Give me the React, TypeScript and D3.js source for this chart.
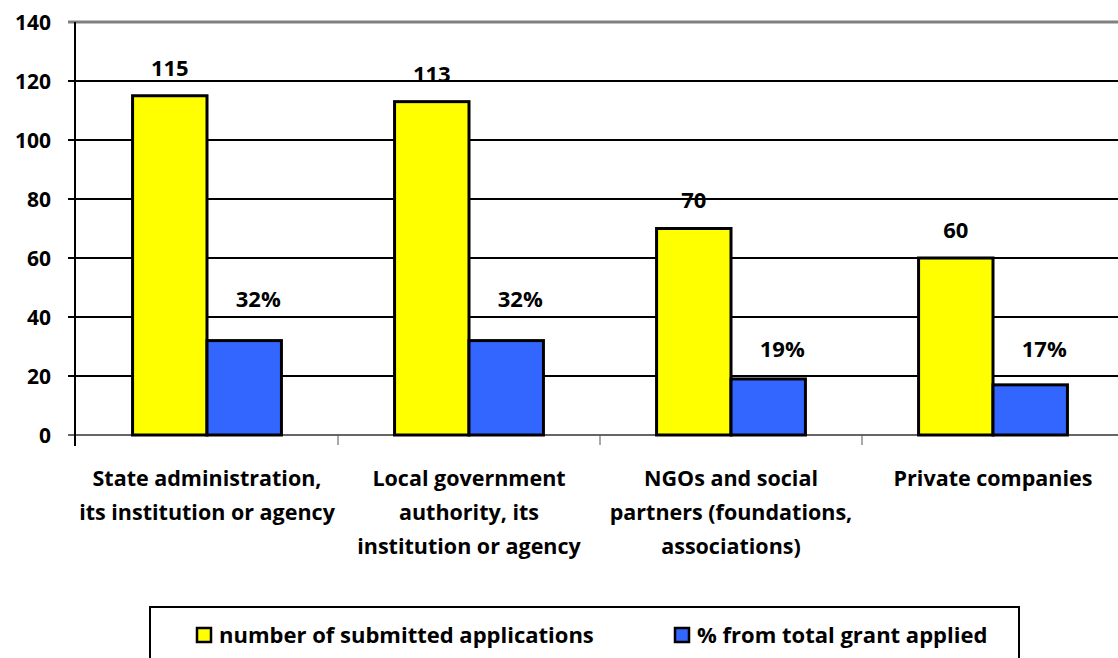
import React from "react";
import * as d3 from "d3";

const categories = [
  ["State administration,", "its institution or agency"],
  ["Local government", "authority, its", "institution or agency"],
  ["NGOs and social", "partners (foundations,", "associations)"],
  ["Private companies"],
];
const applications = [115, 113, 70, 60];
const percentShare = [32, 32, 19, 17];
const percentLabels = ["32%", "32%", "19%", "17%"];
const pctLabelAnchor = [46, 46, 29, 29];
const yTicks = [0, 20, 40, 60, 80, 100, 120, 140];
const seriesNames = ["number of submitted applications", "% from total grant applied"];
const colors = ["#FFFF00", "#3366FF"];

const W = 1118;
const H = 658;
const FONT = "'Open Sans', Lato, sans-serif";

export default function App() {
  const y = d3.scaleLinear().domain([0, 140]).range([435, 22]);
  const x0 = d3
    .scaleBand<number>()
    .domain(d3.range(categories.length))
    .range([76, 1124])
    .paddingInner(0)
    .paddingOuter(0);
  const bw = x0.bandwidth();
  const x1 = d3
    .scaleBand<number>()
    .domain([0, 1])
    .range([0, bw])
    .paddingOuter(0.76)
    .paddingInner(0);

  return (
    <svg
      width={W}
      height={H}
      style={{ position: "absolute", left: 0, top: 0, background: "#fff" }}
      fontFamily={FONT}
    >
      {yTicks.map((t) => (
        <line
          key={t}
          x1={68}
          x2={W}
          y1={y(t)}
          y2={y(t)}
          stroke={t === 140 ? "#808080" : t === 0 ? "#666" : "#000"}
          strokeWidth={t === 140 ? 3 : 2}
        />
      ))}
      <line x1={75} x2={75} y1={y(140)} y2={446} stroke="#000" strokeWidth={2} />
      {yTicks.map((t) => (
        <text
          key={"yl" + t}
          x={51}
          y={y(t)}
          dy="0.36em"
          textAnchor="end"
          fontSize={21}
          fontWeight="bold"
        >
          {t}
        </text>
      ))}
      {d3.range(1, categories.length).map((i) => (
        <line
          key={"ct" + i}
          x1={x0(i)!}
          x2={x0(i)!}
          y1={y(0)}
          y2={445}
          stroke="#555"
          strokeWidth={1}
        />
      ))}
      {categories.map((_, i) => {
        const bx0 = x0(i)! + x1(0)!;
        const bx1 = x0(i)! + x1(1)!;
        const w = x1.bandwidth();
        return (
          <g key={"b" + i}>
            <rect
              x={bx0}
              y={y(applications[i])}
              width={w}
              height={y(0) - y(applications[i])}
              fill={colors[0]}
              stroke="#000"
              strokeWidth={3}
            />
            <rect
              x={bx1}
              y={y(percentShare[i])}
              width={w}
              height={y(0) - y(percentShare[i])}
              fill={colors[1]}
              stroke="#000"
              strokeWidth={3}
            />
            <text
              x={bx0 + w / 2}
              y={y(applications[i]) - 28}
              dy="0.36em"
              textAnchor="middle"
              fontSize={22}
              fontWeight="bold"
            >
              {applications[i]}
            </text>
            <text
              x={bx1 + w / 2 + 14}
              y={y(pctLabelAnchor[i])}
              dy="0.36em"
              textAnchor="middle"
              fontSize={22}
              fontWeight="bold"
            >
              {percentLabels[i]}
            </text>
          </g>
        );
      })}
      {categories.map((lines, i) => (
        <text
          key={"cl" + i}
          x={x0(i)! + bw / 2}
          y={486}
          textAnchor="middle"
          fontSize={21.5}
          fontWeight="bold"
        >
          {lines.map((l, j) => (
            <tspan key={j} x={x0(i)! + bw / 2} dy={j === 0 ? 0 : 34}>
              {l}
            </tspan>
          ))}
        </text>
      ))}
      <rect x={150} y={607} width={869} height={80} fill="#fff" stroke="#000" strokeWidth={2} />
      <rect x={197} y={628} width={14} height={14} fill={colors[0]} stroke="#000" strokeWidth={2.5} />
      <text x={219} y={643} fontSize={22} fontWeight="bold">
        {seriesNames[0]}
      </text>
      <rect x={675} y={628} width={14} height={14} fill={colors[1]} stroke="#000" strokeWidth={2.5} />
      <text x={697} y={643} fontSize={22} fontWeight="bold">
        {seriesNames[1]}
      </text>
    </svg>
  );
}
